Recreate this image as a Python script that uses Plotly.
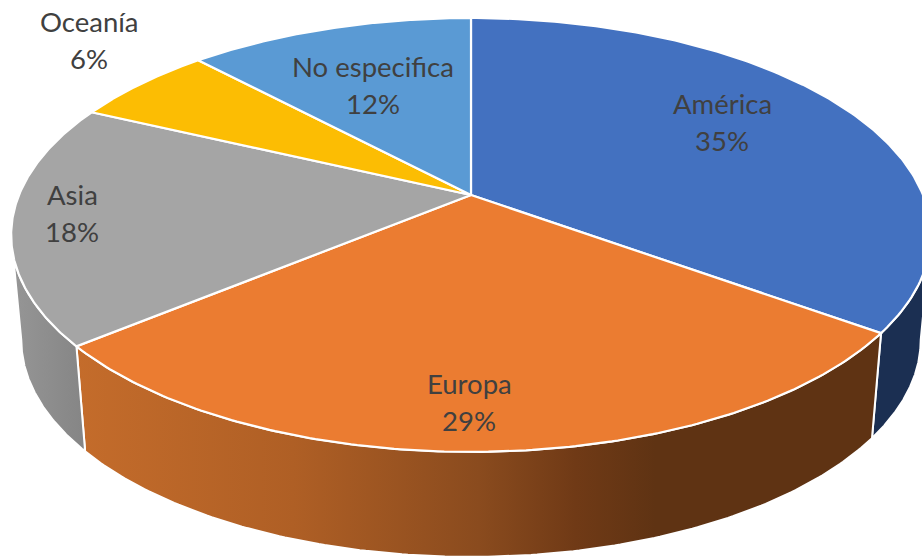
import math
import plotly.graph_objects as go

# Share of responses by continent
categories = ["América", "Europa", "Asia", "Oceanía", "No especifica"]
values = [35, 29, 18, 6, 12]
top_colors = ["#4371C0", "#EB7C31", "#A5A5A5", "#FCBD03", "#5A9AD4"]

# Canvas and perspective of the tilted disc, in pixels
WIDTH, HEIGHT = 922, 558
APEX_X, APEX_Y = 471, 195
RADIUS_X, RADIUS_Y = 452, 209.6
TILT = 0.184
DEPTH = 105
LOWER_SCALE_X = 0.978
TEXT_COLOR = "#404040"
FONT = "Lato"
FONT_SIZE = 27.5

# Centres of each two-line label: x, y of the name, y of the percentage
label_anchors = {
    "América": (722, 103, 140),
    "Europa": (469, 383, 420),
    "Asia": (72, 194, 231),
    "Oceanía": (89, 21, 58),
    "No especifica": (373, 66, 103),
}

# Shading of the visible outer walls
wall_shades = {
    "América": [[0, "#1B2F52"], [1, "#1B2F52"]],
    "Europa": [
        [0, "#C46C2B"], [0.27, "#AF5F25"], [0.5, "#8A4B1E"],
        [0.62, "#703A16"], [0.72, "#5F3313"], [1, "#5F3313"],
    ],
    "Asia": [[0, "#969696"], [1, "#858585"]],
}


def project(theta, lower=False):
    """Map a rim point of the disc (clockwise angle from the top) to the canvas."""
    u, v = math.sin(theta), -math.cos(theta)
    w = 1 - TILT * v
    sx = LOWER_SCALE_X if lower else 1.0
    x = APEX_X + sx * RADIUS_X * u / w
    y = APEX_Y + RADIUS_Y * v / w + (DEPTH if lower else 0)
    return x, y


def arc(a0, a1, lower=False, steps=160):
    pts = [project(a0 + (a1 - a0) * i / steps, lower=lower) for i in range(steps + 1)]
    return [p[0] for p in pts], [p[1] for p in pts]


total = sum(values)
spans = {}
start = 0.0
for name, val in zip(categories, values):
    end = start + val / total * 2 * math.pi
    spans[name] = (start, end)
    start = end

# The rim turns out of sight at these angles, where the disc is widest on screen
SILHOUETTE_RIGHT = math.pi - math.acos(TILT)
SILHOUETTE_LEFT = math.pi + math.acos(TILT)

fig = go.Figure()

# Outer walls first: the top surface is painted over them afterwards
for name, shade in wall_shades.items():
    a0 = max(spans[name][0], SILHOUETTE_RIGHT)
    a1 = min(spans[name][1], SILHOUETTE_LEFT)
    tx, ty = arc(a0, a1)
    bx, by = arc(a1, a0, lower=True)
    fig.add_trace(go.Scatter(
        x=tx + bx + tx[:1], y=ty + by + ty[:1],
        mode="lines", fill="toself",
        fillgradient=dict(type="horizontal", colorscale=shade),
        line=dict(color="white", width=2),
        hoverinfo="skip", showlegend=False,
    ))

# Top surface of each slice
for name, color in zip(categories, top_colors):
    a0, a1 = spans[name]
    ax, ay = arc(a0, a1)
    fig.add_trace(go.Scatter(
        x=[APEX_X] + ax + [APEX_X], y=[APEX_Y] + ay + [APEX_Y],
        mode="lines", fill="toself", fillcolor=color,
        line=dict(color="white", width=2.2),
        name=name, hoverinfo="skip", showlegend=False,
    ))

# Name and percentage of each slice, as two separately spaced lines
annotations = []
for name, val in zip(categories, values):
    lx, name_y, pct_y = label_anchors[name]
    for text, ly in ((name, name_y), (f"{val}%", pct_y)):
        annotations.append(dict(
            x=lx, y=ly, text=text, showarrow=False,
            xanchor="center", yanchor="middle",
            font=dict(family=FONT, size=FONT_SIZE, color=TEXT_COLOR),
        ))

fig.update_layout(
    width=WIDTH, height=HEIGHT,
    margin=dict(l=0, r=0, t=0, b=0),
    paper_bgcolor="white", plot_bgcolor="white",
    xaxis=dict(range=[0, WIDTH], visible=False, fixedrange=True),
    yaxis=dict(range=[HEIGHT, 0], visible=False, fixedrange=True),
    annotations=annotations,
)

fig.write_html("out.html", config={"displayModeBar": False})
